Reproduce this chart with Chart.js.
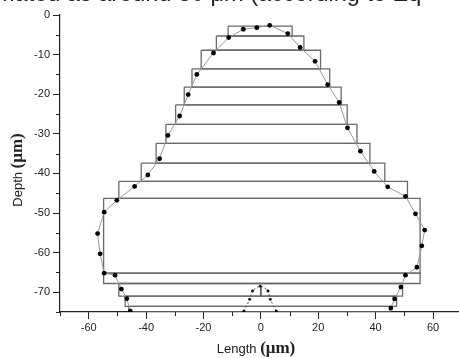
<!DOCTYPE html>
<html>
<head>
<meta charset="utf-8">
<script src="https://cdn.jsdelivr.net/npm/chart.js@4"></script>
<style>
  html, body { margin: 0; padding: 0; background: #fff; overflow: hidden; }
  #wrap { position: relative; width: 470px; height: 358px; }
  #caption {
    position: absolute; left: -5px; top: -20px; white-space: nowrap;
    font: 23.5px 'Liberation Sans', Arial, sans-serif; color: #222;
  }
  canvas { position: absolute; left: 0; top: 0; }
</style>
</head>
<body>
<div id="wrap">
  <canvas id="chart" width="470" height="358"></canvas>
  <div id="caption">mated as around 30 μm (according to Eq</div>
</div>
<script>
// Các lớp hình chữ nhật (µm)
const rectTop    = [-2.8, -5.3, -8.9, -13.6, -18.2, -22.7, -27.6, -32.4, -37.4, -42.0, -46.3, -65.2, -67.8, -71.0, -73.6];
const rectBottom = [-5.3, -8.9, -13.6, -18.2, -22.7, -27.6, -32.4, -37.4, -42.0, -46.3, -65.2, -67.8, -71.0, -73.6, -75.0];
const rectLeft   = [-11.4, -15.5, -20.8, -24.0, -26.7, -29.7, -33.1, -36.5, -41.7, -49.5, -54.8, -54.8, -49.5, -47.3, -46.0];
const rectRight  = [10.9, 15.0, 20.8, 24.0, 28.0, 30.1, 33.5, 38.0, 43.2, 51.1, 55.5, 55.5, 49.4, 47.3, 45.0];

// Biên dạng đo được
const profileX = [-45.5, -46.7, -48.6, -50.8, -54.6, -56.0, -56.9, -54.6, -50.2, -44.0, -39.4, -35.3, -32.4, -28.3, -25.3, -22.3, -16.5, -11.2, -6.1, -1.4, 3.1, 9.4, 13.7, 18.9, 23.3, 27.3, 30.2, 34.7, 39.5, 44.2, 50.4, 53.9, 57.1, 56.1, 54.4, 50.4, 48.8, 46.6, 45.3];
const profileY = [-74.8, -71.6, -69.2, -65.7, -65.2, -60.3, -55.2, -49.8, -46.8, -43.3, -40.4, -36.3, -30.4, -25.5, -20.1, -15.0, -9.6, -5.7, -3.6, -3.2, -2.6, -4.7, -8.2, -11.7, -17.6, -22.1, -28.5, -34.4, -39.5, -43.4, -45.8, -50.2, -54.3, -58.3, -63.7, -65.7, -68.7, -71.7, -74.0];

// Gờ nhỏ ở giữa đáy
const bumpX = [-5.9, -3.9, -2.9, -0.2, 2.5, 3.3, 5.4];
const bumpY = [-74.8, -71.8, -69.7, -68.5, -69.7, -71.8, -74.8];
const centerX = [0, 0];
const centerY = [-68.5, -71.0];

const xMin = -70, xMax = 70, yMin = -75, yMax = 0;

const pts = (xs, ys) => xs.map((x, i) => ({ x, y: ys[i] }));

const rectSets = rectTop.map((t, i) => ({
  data: [
    { x: rectLeft[i], y: t }, { x: rectRight[i], y: t },
    { x: rectRight[i], y: rectBottom[i] }, { x: rectLeft[i], y: rectBottom[i] },
    { x: rectLeft[i], y: t }
  ],
  showLine: true, borderColor: '#6a6a6a', borderWidth: 1.3,
  pointRadius: 0, tension: 0, order: 2
}));

// Vẽ vạch phụ và tiêu đề trục
const extras = {
  id: 'extras',
  afterDraw(chart) {
    const { ctx, scales: { x, y } } = chart;
    ctx.save();
    ctx.strokeStyle = '#222';
    ctx.lineWidth = 1;
    ctx.beginPath();
    for (let v = yMin; v <= yMax; v += 5) {
      if (v % 10 === 0) continue;
      const py = Math.round(y.getPixelForValue(v)) + 0.5;
      ctx.moveTo(x.left - 4, py); ctx.lineTo(x.left, py);
    }
    for (let v = xMin; v <= xMax; v += 10) {
      if (v % 20 === 0) continue;
      const px = Math.round(x.getPixelForValue(v)) + 0.5;
      ctx.moveTo(px, y.bottom); ctx.lineTo(px, y.bottom + 4);
    }
    ctx.stroke();

    ctx.fillStyle = '#222';
    ctx.textBaseline = 'alphabetic';
    const f1 = "13px 'Liberation Sans', Arial, sans-serif";
    const f2 = "bold 17px 'Liberation Serif', 'Times New Roman', serif";
    const drawTitle = (a, b, cx, cy, rot) => {
      ctx.save();
      ctx.translate(cx, cy);
      ctx.rotate(rot);
      ctx.font = f1; const w1 = ctx.measureText(a).width;
      ctx.font = f2; const w2 = ctx.measureText(b).width;
      let sx = -(w1 + w2) / 2;
      ctx.font = f1; ctx.fillText(a, sx, 5);
      ctx.font = f2; ctx.fillText(b, sx + w1, 5);
      ctx.restore();
    };
    drawTitle('Length ', '(μm)', 256, 348, 0);
    drawTitle('Depth ', '(μm)', 17, 170, -Math.PI / 2);
    ctx.restore();
  }
};

new Chart(document.getElementById('chart'), {
  type: 'scatter',
  data: {
    datasets: [
      {
        data: pts(profileX, profileY), showLine: true,
        borderColor: '#9a9a9a', borderWidth: 1,
        pointRadius: 2.4, pointBackgroundColor: '#000', pointBorderWidth: 0,
        tension: 0, order: 0
      },
      {
        data: pts(bumpX, bumpY), showLine: true,
        borderColor: '#555', borderWidth: 1, borderDash: [2, 2],
        pointRadius: 1.4, pointBackgroundColor: '#000', pointBorderWidth: 0,
        tension: 0.3, order: 0
      },
      {
        data: pts(centerX, centerY), showLine: true,
        borderColor: '#555', borderWidth: 1, pointRadius: 0, order: 1
      },
      ...rectSets
    ]
  },
  options: {
    responsive: false,
    animation: false,
    events: [],
    layout: { padding: { left: 0, top: 15, right: 8.3, bottom: 0 } },
    plugins: { legend: { display: false }, tooltip: { enabled: false } },
    scales: {
      x: {
        type: 'linear', min: xMin, max: xMax,
        afterFit: s => { s.height = 46; },
        border: { display: true, color: '#222', width: 1.2 },
        grid: {
          drawOnChartArea: false, tickLength: 7,
          tickColor: c => (c.tick && c.tick.value % 20 === 0) ? '#222' : 'rgba(0,0,0,0)'
        },
        ticks: {
          stepSize: 10, autoSkip: false, maxRotation: 0, padding: 2,
          color: '#222', font: { family: "'Liberation Sans', Arial, sans-serif", size: 11 },
          callback: v => (v % 20 === 0 ? v : '')
        }
      },
      y: {
        type: 'linear', min: yMin, max: yMax,
        afterFit: s => { s.width = 60; },
        border: { display: true, color: '#222', width: 1.2 },
        grid: {
          drawOnChartArea: false, tickLength: 7,
          tickColor: c => (c.tick && c.tick.value % 10 === 0) ? '#222' : 'rgba(0,0,0,0)'
        },
        ticks: {
          stepSize: 5, autoSkip: false, padding: 3,
          color: '#222', font: { family: "'Liberation Sans', Arial, sans-serif", size: 11 },
          callback: v => (v % 10 === 0 ? v : '')
        }
      }
    }
  },
  plugins: [extras]
});
</script>
</body>
</html>
